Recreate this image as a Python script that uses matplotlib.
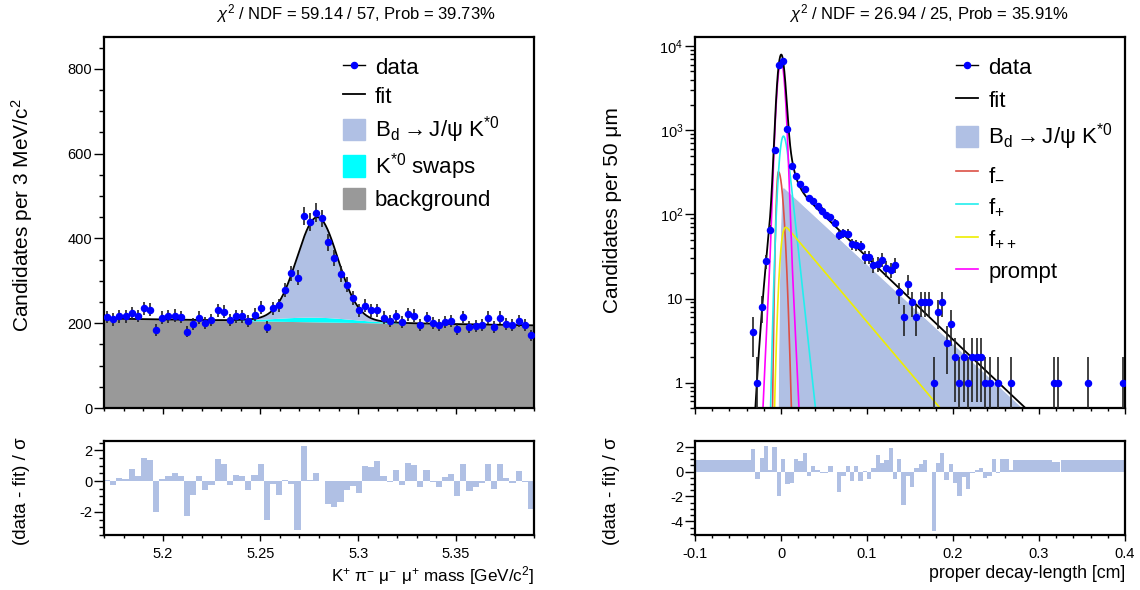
import math
import numpy as np
import matplotlib
matplotlib.use("Agg")
import matplotlib.pyplot as plt
from matplotlib.ticker import MultipleLocator, FuncFormatter, LogLocator, NullFormatter, FixedLocator
from matplotlib.lines import Line2D
from matplotlib.patches import Patch

plt.rcParams['font.family'] = ['Liberation Sans', 'DejaVu Sans']
plt.rcParams['mathtext.fontset'] = 'custom'
plt.rcParams['mathtext.rm'] = 'Liberation Sans'
plt.rcParams['mathtext.it'] = 'Liberation Sans:italic'
plt.rcParams['mathtext.bf'] = 'Liberation Sans:bold'
plt.rcParams['mathtext.sf'] = 'Liberation Sans'
plt.rcParams['axes.unicode_minus'] = False

# ------------------------------------------------------------------ data: mass
mass_lo, mass_hi, mass_nbins = 5.17, 5.39, 70
mass_counts = [214, 209, 216, 216, 224, 217, 235, 232, 184, 213,
               216, 218, 215, 180, 198, 213, 201, 207, 231, 227,
               207, 216, 216, 205, 220, 236, 191, 235, 242, 279,
               318, 307, 453, 438, 461, 447, 391, 353, 316, 291,
               260, 230, 241, 231, 231, 213, 205, 216, 202, 221,
               218, 196, 212, 200, 195, 202, 205, 186, 214, 191,
               194, 195, 213, 191, 213, 198, 195, 205, 195, 172]
mass_pulls = [0.1, -0.25, 0.2, 0.15, 0.8, 0.3, 1.5, 1.35, -2.0, 0.15,
              0.35, 0.5, 0.3, -2.25, -0.9, 0.3, -0.6, -0.25, 1.4, 1.1,
              -0.25, 0.4, 0.3, -0.55, 0.4, 1.1, -2.5, -0.2, -0.9, 0.05,
              -0.2, -3.2, 2.3, 0.1, 0.5, 0.02, -1.5, -1.7, -1.35, -0.55,
              -0.35, -0.8, 0.95, 0.9, 1.27, 0.3, -0.05, 0.75, -0.25, 1.2,
              1.05, -0.4, 0.75, -0.05, -0.4, 0.25, 0.45, -0.95, 1.1, -0.65,
              -0.4, -0.1, 1.1, -0.5, 1.1, 0.2, -0.15, 0.65, -0.05, -1.8]
# fit model parameters (counts per bin)
bkg_left, bkg_right = 211.0, 195.0
sig_mean, sig_sigma, sig_amp = 5.2792, 0.0103, 236.0
swap_mean, swap_sigma, swap_amp = 5.278, 0.020, 11.0
mass_title = r'$\chi^{2}$ / NDF = 59.14 / 57, Prob = 39.73%'

# ------------------------------------------------------------------ data: decay length
ct_lo, ct_hi, ct_nbins = -0.1, 0.4, 100
ct_counts = [0, 0, 0, 0, 0, 0, 0, 0, 0, 0,
             0, 0, 0, 4, 1, 8, 28, 66, 586, 5920,
             6660, 1040, 378, 283, 227, 202, 155, 144, 126, 111,
             98, 92, 79, 57, 60, 59, 44, 43, 42, 31,
             31, 25, 26, 29, 23, 22, 25, 12, 6, 15,
             9, 6, 9, 9, 9, 1, 7, 9, 3, 5,
             2, 1, 2, 1, 2, 2, 2, 1, 1, 0,
             1, 0, 0, 1, 0, 0, 0, 0, 0, 0,
             0, 0, 0, 1, 1, 0, 0, 0, 0, 0,
             0, 1, 0, 0, 0, 0, 0, 0, 0, 1]
ct_pulls = [0.97, 0.97, 0.97, 0.97, 0.97, 0.97, 0.97, 0.97, 0.97, 0.97,
            0.97, 0.97, 0.97, 1.78, -0.6, 1.08, 2.05, 0.1, 2.0, -1.95,
            1.0, -0.97, -0.92, 1.0, 0.84, 1.49, -0.32, 0.43, 0.1, -0.08,
            -0.1, 0.43, -0.05, -1.62, -0.32, 0.43, -0.78, 0.43, -0.78, 0.03,
            -0.6, 0.27, 1.35, 0.7, 0.92, 1.89, -0.6, 1.0, -2.7, -0.32,
            -1.22, 0.32, 0.6, 0.92, 0.0, -4.78, 0.7, 1.49, -0.68, 0.6,
            -0.89, -1.95, -0.46, -1.4, -0.1, 0.1, 0.27, -0.49, -0.32, 1.0,
            -0.1, 1.0, 1.0, 0.16, 0.97, 0.97, 0.97, 0.97, 0.97, 0.97,
            0.97, 0.97, 0.97, 0.76, 0.76, 0.97, 0.97, 0.97, 0.97, 0.97,
            0.97, 0.92, 0.97, 0.97, 0.97, 0.97, 0.97, 0.97, 0.97, 0.97]
# fit component parameters: (peak height, mean, sigma, decay length)
comp_signal = (210.0, 0.0, 0.0012, 0.046)
comp_fpp = (70.0, 0.0, 0.0030, 0.036)
comp_fp = (850.0, 0.0, 0.0035, 0.0046)
comp_fm = (320.0, -0.003, 0.0019, 0.0042)        # peak, mean, sigma_left, sigma_right
comp_prompt = (6500.0, 0.0036, 150.0, 0.0062)     # core amp, core sigma, tail amp, tail sigma
comp_restail = (180.0, 0.0087, 0.003)             # resolution tail in total fit: amp, sigma_l, sigma_r
ct_title = r'$\chi^{2}$ / NDF = 26.94 / 25, Prob = 35.91%'

# ------------------------------------------------------------------ styles
C_SIG = '#b0c0e4'
C_SWAP = '#00ffff'
C_BKG = '#999999'
C_FM = '#dc5046'
C_FP = '#22eeee'
C_FPP = '#eeee00'
C_PROMPT = '#ff00ff'

W, H = 1140, 590
fig = plt.figure(figsize=(W / 100, H / 100), dpi=100)


def box(x0, y0, x1, y1):
    return [x0 / W, 1 - y1 / H, (x1 - x0) / W, (y1 - y0) / H]


axL = fig.add_axes(box(104, 37, 534, 408))
axLr = fig.add_axes(box(104, 441, 534, 535))
axR = fig.add_axes(box(695, 37, 1125, 408))
axRr = fig.add_axes(box(695, 441, 1125, 535))

fmt_g = FuncFormatter(lambda v, p: '%g' % round(v, 6))


def style(ax, ymaj, ymin, xmaj, xmin, xlabels=True):
    for s in ax.spines.values():
        s.set_linewidth(1.6)
    ax.tick_params(which='both', direction='out', top=False, right=False, labelsize=10.5, width=1.0)
    ax.tick_params(axis='y', which='major', length=7, pad=1.5)
    ax.tick_params(axis='y', which='minor', length=3.5)
    ax.tick_params(axis='x', which='major', length=4, pad=5)
    ax.tick_params(axis='x', which='minor', length=2.5)
    if xmaj:
        ax.xaxis.set_major_locator(MultipleLocator(xmaj))
        ax.xaxis.set_minor_locator(MultipleLocator(xmin))
        ax.xaxis.set_major_formatter(fmt_g)
    if ymaj:
        ax.yaxis.set_major_locator(MultipleLocator(ymaj))
        ax.yaxis.set_minor_locator(MultipleLocator(ymin))
        ax.yaxis.set_major_formatter(fmt_g)
    if not xlabels:
        ax.tick_params(axis='x', labelbottom=False)


# ------------------------------------------------------------------ mass panel
medges = np.linspace(mass_lo, mass_hi, mass_nbins + 1)
mcent = 0.5 * (medges[:-1] + medges[1:])
mbw = medges[1] - medges[0]
mc = np.array(mass_counts, float)

xm = np.linspace(mass_lo, mass_hi, 1200)
bkg = bkg_left + (bkg_right - bkg_left) * (xm - mass_lo) / (mass_hi - mass_lo)
swap = swap_amp * np.exp(-0.5 * ((xm - swap_mean) / swap_sigma) ** 2)
sig = sig_amp * np.exp(-0.5 * ((xm - sig_mean) / sig_sigma) ** 2)
tot = bkg + swap + sig

axL.fill_between(xm, 0, bkg, color=C_BKG, lw=0, zorder=1)
axL.fill_between(xm, bkg, bkg + swap, color=C_SWAP, lw=0, zorder=1)
axL.fill_between(xm, bkg + swap, tot, color=C_SIG, lw=0, zorder=1)
axL.plot(xm, tot, color='black', lw=1.3, zorder=3)
axL.errorbar(mcent, mc, yerr=np.sqrt(mc), fmt='o', ms=4.4, color='blue', mec='blue',
             ecolor='#222222', elinewidth=1.2, capsize=0, zorder=5)
axL.set_xlim(mass_lo, mass_hi)
axL.set_ylim(0, 875)
style(axL, 200, 50, 0.05, 0.01, xlabels=False)

axLr.bar(mcent, mass_pulls, width=mbw, color=C_SIG, lw=0)
axLr.set_xlim(mass_lo, mass_hi)
axLr.set_ylim(-3.5, 2.6)
style(axLr, 2, 0.5, 0.05, 0.01)

LEG_FS = 16
h_data = Line2D([], [], color='black', lw=1.0, marker='o', ms=4.4, mfc='blue', mec='blue')
h_fit = Line2D([], [], color='black', lw=1.3)
axL.legend([h_data, h_fit, Patch(color=C_SIG), Patch(color=C_SWAP), Patch(color=C_BKG)],
           ['data', 'fit', r'B$_\mathrm{d}$$\rightarrow$J/ψ K$^{*0}$', r'K$^{*0}$ swaps', 'background'],
           loc='upper left', bbox_to_anchor=(0.555, 0.949), frameon=False, fontsize=LEG_FS,
           handlelength=1.0, handleheight=1.1, handletextpad=0.45, labelspacing=0.27, borderpad=0,
           borderaxespad=0)

# ------------------------------------------------------------------ decay length panel
cedges = np.linspace(ct_lo, ct_hi, ct_nbins + 1)
ccent = 0.5 * (cedges[:-1] + cedges[1:])
cbw = cedges[1] - cedges[0]
cc = np.array(ct_counts, float)

xc = np.linspace(ct_lo, ct_hi, 4000)
verfc = np.vectorize(math.erfc)


def exconv(x, par):
    peak, mu, s, lam = par
    z = x - mu
    y = np.exp(s ** 2 / (2 * lam ** 2) - z / lam) * verfc((s / lam - z / s) / np.sqrt(2))
    return peak * y / y.max()


def bifur(x, peak, mu, sl, sr):
    s = np.where(x < mu, sl, sr)
    return peak * np.exp(-0.5 * ((x - mu) / s) ** 2)


y_sig = exconv(xc, comp_signal)
y_fpp = exconv(xc, comp_fpp)
y_fp = exconv(xc, comp_fp)
y_fm = bifur(xc, comp_fm[0], comp_fm[1], comp_fm[2], comp_fm[3])
y_prompt = (comp_prompt[0] * np.exp(-0.5 * (xc / comp_prompt[1]) ** 2)
            + comp_prompt[2] * np.exp(-0.5 * (xc / comp_prompt[3]) ** 2))
y_res = bifur(xc, comp_restail[0], 0.0, comp_restail[1], comp_restail[2])
y_tot = y_sig + y_fpp + y_fp + y_fm + y_prompt + y_res

floor = 1e-3
axR.set_yscale('log')
axR.fill_between(xc, floor, np.maximum(y_sig, floor), color=C_SIG, lw=0, zorder=1)
axR.plot(xc, np.maximum(y_sig, floor), color='white', lw=0.8, zorder=1.5)
axR.plot(xc, np.maximum(y_fm, floor), color=C_FM, lw=1.2, zorder=2)
axR.plot(xc, np.maximum(y_fp, floor), color=C_FP, lw=1.2, zorder=2)
axR.plot(xc, np.maximum(y_fpp, floor), color=C_FPP, lw=1.2, zorder=2)
axR.plot(xc, np.maximum(y_prompt, floor), color=C_PROMPT, lw=1.2, zorder=2)
axR.plot(xc, y_tot, color='black', lw=1.3, zorder=3)
nz = cc > 0
err = np.sqrt(cc[nz])
lo_err = np.minimum(err, cc[nz] - 1e-3)
axR.errorbar(ccent[nz], cc[nz], yerr=[lo_err, err], fmt='o', ms=4.4, color='blue', mec='blue',
             ecolor='#222222', elinewidth=1.2, capsize=0, zorder=5)
axR.set_xlim(ct_lo, ct_hi)
axR.set_ylim(0.5, 1.28e4)
style(axR, None, None, 0.1, 0.02, xlabels=False)
axR.yaxis.set_major_locator(FixedLocator([1, 10, 100, 1000, 10000]))
axR.yaxis.set_minor_locator(LogLocator(base=10, subs=np.arange(2, 10)))
axR.yaxis.set_minor_formatter(NullFormatter())


def decade(v, p):
    e = int(round(np.log10(v)))
    if e == 0:
        return '1'
    if e == 1:
        return '10'
    return r'10$^{%d}$' % e


axR.yaxis.set_major_formatter(FuncFormatter(decade))

axRr.bar(ccent, ct_pulls, width=cbw, color=C_SIG, lw=0)
axRr.set_xlim(ct_lo, ct_hi)
axRr.set_ylim(-5.1, 2.46)
style(axRr, 2, 0.5, 0.1, 0.02)

handles = [h_data, h_fit, Patch(color=C_SIG),
           Line2D([], [], color=C_FM, lw=1.2), Line2D([], [], color=C_FP, lw=1.2),
           Line2D([], [], color=C_FPP, lw=1.2), Line2D([], [], color=C_PROMPT, lw=1.2)]
labels = ['data', 'fit', r'B$_\mathrm{d}$$\rightarrow$J/ψ K$^{*0}$', r'f$_{-}$', r'f$_{+}$', r'f$_{++}$', 'prompt']
axR.legend(handles, labels, loc='upper left', bbox_to_anchor=(0.607, 0.949), frameon=False, fontsize=LEG_FS,
           handlelength=1.0, handleheight=1.1, handletextpad=0.45, labelspacing=0.43, borderpad=0,
           borderaxespad=0)

# ------------------------------------------------------------------ texts
fig.text(356 / W, 1 - 14 / H, mass_title, ha='center', va='center', fontsize=12)
fig.text(929 / W, 1 - 14 / H, ct_title, ha='center', va='center', fontsize=12)
fig.text(22 / W, 1 - 215 / H, r'Candidates per 3 MeV/c$^{2}$', rotation=90, ha='center', va='center', fontsize=15)
fig.text(22 / W, 1 - 491 / H, '(data - fit) / σ', rotation=90, ha='center', va='center', fontsize=13.5)
fig.text(612 / W, 1 - 210 / H, 'Candidates per 50 μm', rotation=90, ha='center', va='center', fontsize=15)
fig.text(612 / W, 1 - 491 / H, '(data - fit) / σ', rotation=90, ha='center', va='center', fontsize=13.5)
fig.text(534 / W, 1 - 576 / H, r'K$^{+}$ π$^{-}$ μ$^{-}$ μ$^{+}$ mass [GeV/c$^{2}$]', ha='right', va='center', fontsize=12.3)
fig.text(1125 / W, 1 - 574 / H, 'proper decay-length [cm]', ha='right', va='center', fontsize=12.8)

fig.savefig('out.png', dpi=100)
